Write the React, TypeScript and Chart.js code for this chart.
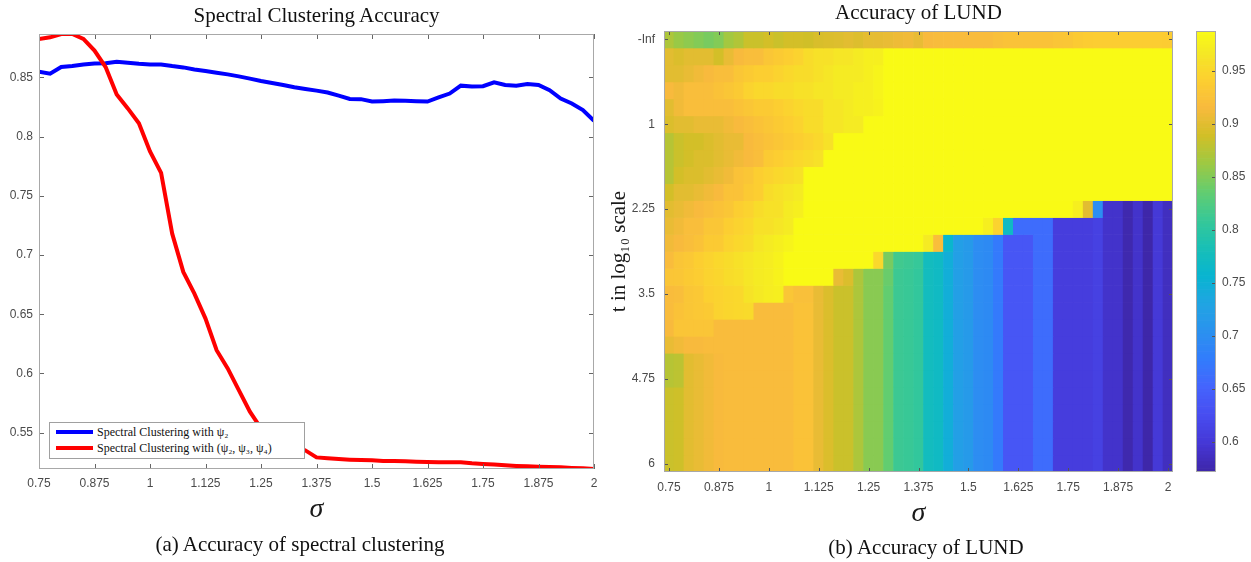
import React, { useEffect, useRef } from "react";
import { Chart, registerables } from "chart.js";

Chart.register(...registerables);

// ---------- shared axis values ----------
const sigma = [
  0.75, 0.775, 0.8, 0.825, 0.85, 0.875, 0.9, 0.925, 0.95, 0.975,
  1, 1.025, 1.05, 1.075, 1.1, 1.125, 1.15, 1.175, 1.2, 1.225,
  1.25, 1.275, 1.3, 1.325, 1.35, 1.375, 1.4, 1.425, 1.45, 1.475,
  1.5, 1.525, 1.55, 1.575, 1.6, 1.625, 1.65, 1.675, 1.7, 1.725,
  1.75, 1.775, 1.8, 1.825, 1.85, 1.875, 1.9, 1.925, 1.95, 1.975,
  2,
];
const xTickValues = [0.75, 0.875, 1, 1.125, 1.25, 1.375, 1.5, 1.625, 1.75, 1.875, 2];

// ---------- left panel: spectral clustering accuracy ----------
const leftTitle = "Spectral Clustering Accuracy";
const leftCaption = "(a) Accuracy of spectral clustering";
const leftYTicks = [0.55, 0.6, 0.65, 0.7, 0.75, 0.8, 0.85];
const leftYMin = 0.5193;
const leftYMax = 0.8866;
const seriesNames = ["Spectral Clustering with ψ₂", "Spectral Clustering with (ψ₂, ψ₃, ψ₄)"];
const seriesColors = ["#0000ff", "#ff0000"];
const accPsi2 = [
  0.8547, 0.8531, 0.8587, 0.8595, 0.8609, 0.8617, 0.862, 0.8631, 0.8623, 0.8614,
  0.8609, 0.8609, 0.8595, 0.8584, 0.8567, 0.8553, 0.8539, 0.8525, 0.8508, 0.8489,
  0.8469, 0.8453, 0.8436, 0.8416, 0.8402, 0.8388, 0.8372, 0.8346, 0.8318, 0.8316,
  0.8296, 0.8299, 0.8304, 0.8302, 0.8299, 0.8296, 0.833, 0.8363, 0.843, 0.8422,
  0.8425, 0.8458, 0.8436, 0.843, 0.8444, 0.8436, 0.8391, 0.8321, 0.8279, 0.8224,
  0.8134,
];
const accPsi234 = [
  0.8824, 0.8838, 0.8866, 0.8866, 0.8824, 0.8726, 0.8587, 0.8355, 0.8238, 0.8112,
  0.7875, 0.7694, 0.718, 0.6857, 0.6674, 0.6463, 0.6196, 0.6042, 0.5859, 0.5677,
  0.5536, 0.548, 0.543, 0.539, 0.535, 0.5291, 0.5283, 0.5277, 0.5272, 0.5269,
  0.5266, 0.526, 0.526, 0.5258, 0.5255, 0.5252, 0.525, 0.525, 0.525, 0.5241,
  0.5236, 0.523, 0.5224, 0.5219, 0.5216, 0.5213, 0.521, 0.5207, 0.5202, 0.5199,
  0.5193,
];

// ---------- right panel: LUND accuracy heatmap ----------
const rightTitle = "Accuracy of LUND";
const rightCaption = "(b) Accuracy of LUND";
const tRowLabels = [
  "-Inf", "0", "0.25", "0.5", "0.75", "1", "1.25", "1.5", "1.75", "2", "2.25", "2.5", "2.75",
  "3", "3.25", "3.5", "3.75", "4", "4.25", "4.5", "4.75", "5", "5.25", "5.5", "5.75", "6",
];
const tTickLabels = ["-Inf", "1", "2.25", "3.5", "4.75", "6"];
const colorbarTicks = [0.6, 0.65, 0.7, 0.75, 0.8, 0.85, 0.9, 0.95];
const cMin = 0.5714;
const cMax = 0.9878;

const lundRowInf = [
  0.870, 0.860, 0.855, 0.850, 0.845, 0.850, 0.865, 0.872, 0.885, 0.885,
  0.890, 0.885, 0.890, 0.890, 0.888, 0.893, 0.895, 0.897, 0.900, 0.897,
  0.902, 0.903, 0.905, 0.908, 0.910, 0.905, 0.915, 0.917, 0.918, 0.918,
  0.918, 0.918, 0.918, 0.922, 0.925, 0.925, 0.925, 0.925, 0.925, 0.928,
  0.930, 0.935, 0.937, 0.938, 0.938, 0.938, 0.938, 0.938, 0.938, 0.938,
  0.937,
];
const lundRowT000 = [
  0.900, 0.895, 0.900, 0.900, 0.900, 0.890, 0.905, 0.915, 0.920, 0.920,
  0.930, 0.935, 0.940, 0.945, 0.955, 0.960, 0.960, 0.965, 0.965, 0.970,
  0.975, 0.975, 0.987, 0.987, 0.987, 0.987, 0.987, 0.987, 0.987, 0.987,
  0.987, 0.987, 0.987, 0.987, 0.987, 0.987, 0.987, 0.987, 0.987, 0.987,
  0.987, 0.987, 0.987, 0.987, 0.987, 0.987, 0.987, 0.987, 0.987, 0.987,
  0.987,
];
const lundRowT025 = [
  0.900, 0.900, 0.905, 0.910, 0.915, 0.920, 0.920, 0.930, 0.935, 0.940,
  0.940, 0.945, 0.950, 0.955, 0.955, 0.960, 0.965, 0.970, 0.970, 0.970,
  0.975, 0.980, 0.987, 0.987, 0.987, 0.987, 0.987, 0.987, 0.987, 0.987,
  0.987, 0.987, 0.987, 0.987, 0.987, 0.987, 0.987, 0.987, 0.987, 0.987,
  0.987, 0.987, 0.987, 0.987, 0.987, 0.987, 0.987, 0.987, 0.987, 0.987,
  0.987,
];
const lundRowT050 = [
  0.915, 0.910, 0.920, 0.920, 0.920, 0.925, 0.930, 0.935, 0.945, 0.950,
  0.950, 0.955, 0.955, 0.960, 0.960, 0.965, 0.965, 0.970, 0.970, 0.975,
  0.975, 0.980, 0.987, 0.987, 0.987, 0.987, 0.987, 0.987, 0.987, 0.987,
  0.987, 0.987, 0.987, 0.987, 0.987, 0.987, 0.987, 0.987, 0.987, 0.987,
  0.987, 0.987, 0.987, 0.987, 0.987, 0.987, 0.987, 0.987, 0.987, 0.987,
  0.987,
];
const lundRowT075 = [
  0.900, 0.910, 0.920, 0.920, 0.920, 0.920, 0.920, 0.925, 0.930, 0.935,
  0.935, 0.940, 0.945, 0.950, 0.955, 0.955, 0.965, 0.965, 0.970, 0.975,
  0.975, 0.978, 0.987, 0.987, 0.987, 0.987, 0.987, 0.987, 0.987, 0.987,
  0.987, 0.987, 0.987, 0.987, 0.987, 0.987, 0.987, 0.987, 0.987, 0.987,
  0.987, 0.987, 0.987, 0.987, 0.987, 0.987, 0.987, 0.987, 0.987, 0.987,
  0.987,
];
const lundRowT100 = [
  0.895, 0.900, 0.900, 0.905, 0.905, 0.905, 0.910, 0.915, 0.920, 0.925,
  0.930, 0.935, 0.940, 0.945, 0.955, 0.955, 0.965, 0.965, 0.970, 0.970,
  0.987, 0.987, 0.987, 0.987, 0.987, 0.987, 0.987, 0.987, 0.987, 0.987,
  0.987, 0.987, 0.987, 0.987, 0.987, 0.987, 0.987, 0.987, 0.987, 0.987,
  0.987, 0.987, 0.987, 0.987, 0.987, 0.987, 0.987, 0.987, 0.987, 0.987,
  0.987,
];
const lundRowT125 = [
  0.875, 0.885, 0.890, 0.890, 0.895, 0.900, 0.905, 0.905, 0.915, 0.920,
  0.925, 0.930, 0.935, 0.940, 0.945, 0.950, 0.960, 0.987, 0.987, 0.987,
  0.987, 0.987, 0.987, 0.987, 0.987, 0.987, 0.987, 0.987, 0.987, 0.987,
  0.987, 0.987, 0.987, 0.987, 0.987, 0.987, 0.987, 0.987, 0.987, 0.987,
  0.987, 0.987, 0.987, 0.987, 0.987, 0.987, 0.987, 0.987, 0.987, 0.987,
  0.987,
];
const lundRowT150 = [
  0.875, 0.885, 0.890, 0.895, 0.895, 0.900, 0.905, 0.910, 0.915, 0.920,
  0.935, 0.940, 0.945, 0.950, 0.955, 0.960, 0.987, 0.987, 0.987, 0.987,
  0.987, 0.987, 0.987, 0.987, 0.987, 0.987, 0.987, 0.987, 0.987, 0.987,
  0.987, 0.987, 0.987, 0.987, 0.987, 0.987, 0.987, 0.987, 0.987, 0.987,
  0.987, 0.987, 0.987, 0.987, 0.987, 0.987, 0.987, 0.987, 0.987, 0.987,
  0.987,
];
const lundRowT175 = [
  0.875, 0.890, 0.895, 0.895, 0.900, 0.905, 0.910, 0.925, 0.930, 0.940,
  0.945, 0.950, 0.955, 0.960, 0.987, 0.987, 0.987, 0.987, 0.987, 0.987,
  0.987, 0.987, 0.987, 0.987, 0.987, 0.987, 0.987, 0.987, 0.987, 0.987,
  0.987, 0.987, 0.987, 0.987, 0.987, 0.987, 0.987, 0.987, 0.987, 0.987,
  0.987, 0.987, 0.987, 0.987, 0.987, 0.987, 0.987, 0.987, 0.987, 0.987,
  0.987,
];
const lundRowT200 = [
  0.890, 0.900, 0.900, 0.905, 0.910, 0.915, 0.925, 0.925, 0.935, 0.940,
  0.955, 0.960, 0.965, 0.970, 0.987, 0.987, 0.987, 0.987, 0.987, 0.987,
  0.987, 0.987, 0.987, 0.987, 0.987, 0.987, 0.987, 0.987, 0.987, 0.987,
  0.987, 0.987, 0.987, 0.987, 0.987, 0.987, 0.987, 0.987, 0.987, 0.987,
  0.987, 0.987, 0.987, 0.987, 0.987, 0.987, 0.987, 0.987, 0.987, 0.987,
  0.987,
];
const lundRowT225 = [
  0.900, 0.905, 0.910, 0.915, 0.920, 0.925, 0.930, 0.940, 0.945, 0.955,
  0.960, 0.960, 0.970, 0.975, 0.987, 0.987, 0.987, 0.987, 0.987, 0.987,
  0.987, 0.987, 0.987, 0.987, 0.987, 0.987, 0.987, 0.987, 0.987, 0.987,
  0.987, 0.987, 0.987, 0.987, 0.987, 0.987, 0.987, 0.987, 0.987, 0.987,
  0.987, 0.975, 0.900, 0.700, 0.592, 0.592, 0.575, 0.592, 0.572, 0.600,
  0.585,
];
const lundRowT250 = [
  0.905, 0.910, 0.920, 0.920, 0.930, 0.930, 0.940, 0.945, 0.950, 0.960,
  0.960, 0.965, 0.970, 0.987, 0.987, 0.987, 0.987, 0.987, 0.987, 0.987,
  0.987, 0.987, 0.987, 0.987, 0.987, 0.987, 0.987, 0.987, 0.987, 0.987,
  0.987, 0.987, 0.975, 0.945, 0.770, 0.660, 0.660, 0.660, 0.660, 0.605,
  0.605, 0.605, 0.605, 0.610, 0.592, 0.592, 0.575, 0.592, 0.572, 0.600,
  0.585,
];
const lundRowT275 = [
  0.910, 0.915, 0.920, 0.925, 0.935, 0.935, 0.945, 0.950, 0.955, 0.965,
  0.970, 0.975, 0.980, 0.987, 0.987, 0.987, 0.987, 0.987, 0.987, 0.987,
  0.987, 0.987, 0.987, 0.987, 0.987, 0.987, 0.970, 0.920, 0.760, 0.722,
  0.716, 0.698, 0.695, 0.675, 0.635, 0.635, 0.635, 0.660, 0.660, 0.605,
  0.605, 0.605, 0.605, 0.610, 0.592, 0.592, 0.575, 0.592, 0.572, 0.600,
  0.585,
];
const lundRowT300 = [
  0.918, 0.928, 0.932, 0.940, 0.945, 0.950, 0.955, 0.960, 0.965, 0.970,
  0.972, 0.978, 0.987, 0.987, 0.987, 0.987, 0.987, 0.987, 0.987, 0.987,
  0.987, 0.950, 0.845, 0.815, 0.812, 0.808, 0.775, 0.770, 0.745, 0.722,
  0.716, 0.698, 0.695, 0.675, 0.635, 0.635, 0.635, 0.660, 0.660, 0.605,
  0.605, 0.605, 0.605, 0.610, 0.592, 0.592, 0.575, 0.592, 0.572, 0.600,
  0.585,
];
const lundRowT325 = [
  0.928, 0.930, 0.935, 0.938, 0.945, 0.948, 0.955, 0.958, 0.965, 0.970,
  0.972, 0.978, 0.987, 0.987, 0.987, 0.987, 0.987, 0.905, 0.895, 0.870,
  0.853, 0.853, 0.838, 0.812, 0.810, 0.805, 0.775, 0.770, 0.745, 0.722,
  0.716, 0.698, 0.695, 0.675, 0.635, 0.635, 0.635, 0.660, 0.660, 0.605,
  0.605, 0.605, 0.605, 0.610, 0.592, 0.592, 0.575, 0.592, 0.572, 0.600,
  0.585,
];
const lundRowT350 = [
  0.918, 0.920, 0.930, 0.932, 0.942, 0.945, 0.948, 0.950, 0.962, 0.968,
  0.972, 0.975, 0.930, 0.922, 0.922, 0.905, 0.895, 0.885, 0.885, 0.870,
  0.853, 0.853, 0.835, 0.812, 0.810, 0.805, 0.775, 0.770, 0.745, 0.722,
  0.716, 0.698, 0.695, 0.675, 0.635, 0.635, 0.635, 0.660, 0.660, 0.605,
  0.605, 0.605, 0.605, 0.610, 0.592, 0.592, 0.575, 0.592, 0.572, 0.600,
  0.585,
];
const lundRowT375 = [
  0.918, 0.925, 0.930, 0.932, 0.935, 0.945, 0.948, 0.950, 0.952, 0.918,
  0.918, 0.918, 0.918, 0.925, 0.925, 0.905, 0.895, 0.885, 0.885, 0.870,
  0.853, 0.853, 0.835, 0.812, 0.810, 0.805, 0.775, 0.770, 0.745, 0.722,
  0.716, 0.698, 0.695, 0.675, 0.635, 0.635, 0.635, 0.660, 0.660, 0.605,
  0.605, 0.605, 0.605, 0.610, 0.592, 0.592, 0.575, 0.592, 0.572, 0.600,
  0.585,
];
const lundRowT400 = [
  0.915, 0.928, 0.928, 0.928, 0.928, 0.918, 0.918, 0.918, 0.918, 0.918,
  0.918, 0.918, 0.918, 0.925, 0.925, 0.905, 0.895, 0.885, 0.885, 0.870,
  0.853, 0.853, 0.835, 0.812, 0.810, 0.805, 0.775, 0.770, 0.745, 0.722,
  0.716, 0.698, 0.695, 0.675, 0.635, 0.635, 0.635, 0.660, 0.660, 0.605,
  0.605, 0.605, 0.605, 0.610, 0.592, 0.592, 0.575, 0.592, 0.572, 0.600,
  0.585,
];
const lundRowT425 = [
  0.905, 0.910, 0.915, 0.915, 0.918, 0.918, 0.918, 0.918, 0.918, 0.918,
  0.918, 0.918, 0.918, 0.925, 0.925, 0.905, 0.895, 0.885, 0.885, 0.870,
  0.853, 0.853, 0.835, 0.812, 0.810, 0.805, 0.775, 0.770, 0.745, 0.722,
  0.716, 0.698, 0.695, 0.675, 0.635, 0.635, 0.635, 0.660, 0.660, 0.605,
  0.605, 0.605, 0.605, 0.610, 0.592, 0.592, 0.575, 0.592, 0.572, 0.600,
  0.585,
];
const lundRowT450 = [
  0.875, 0.878, 0.900, 0.905, 0.910, 0.915, 0.918, 0.918, 0.918, 0.918,
  0.918, 0.918, 0.918, 0.925, 0.925, 0.905, 0.895, 0.885, 0.885, 0.870,
  0.853, 0.853, 0.835, 0.812, 0.810, 0.805, 0.775, 0.770, 0.745, 0.722,
  0.716, 0.698, 0.695, 0.675, 0.635, 0.635, 0.635, 0.660, 0.660, 0.605,
  0.605, 0.605, 0.605, 0.610, 0.592, 0.592, 0.575, 0.592, 0.572, 0.600,
  0.585,
];
const lundRowT475 = [
  0.875, 0.878, 0.900, 0.905, 0.910, 0.915, 0.918, 0.918, 0.918, 0.918,
  0.918, 0.918, 0.918, 0.925, 0.925, 0.905, 0.895, 0.885, 0.885, 0.870,
  0.853, 0.853, 0.835, 0.812, 0.810, 0.805, 0.775, 0.770, 0.745, 0.722,
  0.716, 0.698, 0.695, 0.675, 0.635, 0.635, 0.635, 0.660, 0.660, 0.605,
  0.605, 0.605, 0.605, 0.610, 0.592, 0.592, 0.575, 0.592, 0.572, 0.600,
  0.585,
];
const lundRowT500 = [
  0.885, 0.887, 0.900, 0.905, 0.910, 0.915, 0.918, 0.918, 0.918, 0.918,
  0.918, 0.918, 0.918, 0.925, 0.925, 0.905, 0.895, 0.885, 0.885, 0.870,
  0.853, 0.853, 0.835, 0.812, 0.810, 0.805, 0.775, 0.770, 0.745, 0.722,
  0.716, 0.698, 0.695, 0.675, 0.635, 0.635, 0.635, 0.660, 0.660, 0.605,
  0.605, 0.605, 0.605, 0.610, 0.592, 0.592, 0.575, 0.592, 0.572, 0.600,
  0.585,
];
const lundRowT525 = [
  0.885, 0.887, 0.900, 0.905, 0.910, 0.915, 0.918, 0.918, 0.918, 0.918,
  0.918, 0.918, 0.918, 0.925, 0.925, 0.905, 0.895, 0.885, 0.885, 0.870,
  0.853, 0.853, 0.835, 0.812, 0.810, 0.805, 0.775, 0.770, 0.745, 0.722,
  0.716, 0.698, 0.695, 0.675, 0.635, 0.635, 0.635, 0.660, 0.660, 0.605,
  0.605, 0.605, 0.605, 0.610, 0.592, 0.592, 0.575, 0.592, 0.572, 0.600,
  0.585,
];
const lundRowT550 = [
  0.885, 0.887, 0.900, 0.905, 0.910, 0.915, 0.918, 0.918, 0.918, 0.918,
  0.918, 0.918, 0.918, 0.925, 0.925, 0.905, 0.895, 0.885, 0.885, 0.870,
  0.853, 0.853, 0.835, 0.812, 0.810, 0.805, 0.775, 0.770, 0.745, 0.722,
  0.716, 0.698, 0.695, 0.675, 0.635, 0.635, 0.635, 0.660, 0.660, 0.605,
  0.605, 0.605, 0.605, 0.610, 0.592, 0.592, 0.575, 0.592, 0.572, 0.600,
  0.585,
];
const lundRowT575 = [
  0.885, 0.887, 0.900, 0.905, 0.910, 0.915, 0.918, 0.918, 0.918, 0.918,
  0.918, 0.918, 0.918, 0.925, 0.925, 0.905, 0.895, 0.885, 0.885, 0.870,
  0.853, 0.853, 0.835, 0.812, 0.810, 0.805, 0.775, 0.770, 0.745, 0.722,
  0.716, 0.698, 0.695, 0.675, 0.635, 0.635, 0.635, 0.660, 0.660, 0.605,
  0.605, 0.605, 0.605, 0.610, 0.592, 0.592, 0.575, 0.592, 0.572, 0.600,
  0.585,
];
const lundRowT600 = [
  0.885, 0.887, 0.900, 0.905, 0.910, 0.915, 0.918, 0.918, 0.918, 0.918,
  0.918, 0.918, 0.918, 0.925, 0.925, 0.905, 0.895, 0.885, 0.885, 0.870,
  0.853, 0.853, 0.835, 0.812, 0.810, 0.805, 0.775, 0.770, 0.745, 0.722,
  0.716, 0.698, 0.695, 0.675, 0.635, 0.635, 0.635, 0.660, 0.660, 0.605,
  0.605, 0.605, 0.605, 0.610, 0.592, 0.592, 0.575, 0.592, 0.572, 0.600,
  0.585,
];

const lundRows = [
  lundRowInf, lundRowT000, lundRowT025, lundRowT050, lundRowT075, lundRowT100,
  lundRowT125, lundRowT150, lundRowT175, lundRowT200, lundRowT225, lundRowT250,
  lundRowT275, lundRowT300, lundRowT325, lundRowT350, lundRowT375, lundRowT400,
  lundRowT425, lundRowT450, lundRowT475, lundRowT500, lundRowT525, lundRowT550,
  lundRowT575, lundRowT600,
];

// ---------- parula colormap (style) ----------
const parulaStops: number[][] = [
  [0 / 63, 0.2422, 0.1504, 0.6603],
  [4 / 63, 0.2706, 0.2147, 0.8364],
  [8 / 63, 0.2813, 0.3006, 0.9414],
  [12 / 63, 0.2699, 0.3892, 0.9906],
  [16 / 63, 0.1963, 0.4847, 0.9892],
  [20 / 63, 0.1687, 0.5703, 0.9359],
  [24 / 63, 0.1248, 0.6459, 0.8883],
  [28 / 63, 0.0297, 0.7082, 0.8163],
  [32 / 63, 0.0964, 0.75, 0.712],
  [36 / 63, 0.2161, 0.7843, 0.5923],
  [40 / 63, 0.3909, 0.8029, 0.4354],
  [44 / 63, 0.6174, 0.7876, 0.2612],
  [48 / 63, 0.8203, 0.7498, 0.1535],
  [52 / 63, 0.9728, 0.7298, 0.2394],
  [56 / 63, 0.9892, 0.8136, 0.1885],
  [60 / 63, 0.9597, 0.9135, 0.1423],
  [63 / 63, 0.9769, 0.9839, 0.0805],
];

function parulaColor(v: number): string {
  let t = (v - cMin) / (cMax - cMin);
  t = Math.max(0, Math.min(1, t));
  let i = 0;
  while (i < parulaStops.length - 2 && t > parulaStops[i + 1][0]) i++;
  const a = parulaStops[i];
  const b = parulaStops[i + 1];
  const f = (t - a[0]) / (b[0] - a[0]);
  const c = [1, 2, 3].map((k) => Math.round(255 * (a[k] + (b[k] - a[k]) * f)));
  return `rgb(${c[0]},${c[1]},${c[2]})`;
}

const serif = '"Liberation Serif", "Times New Roman", serif';
const sans = '"Liberation Sans", Arial, sans-serif';
const tickFont = { family: sans, size: 12 };
const tickColor = "#4a4a4a";

// inward MATLAB-style ticks + box
const boxTicksPlugin = {
  id: "boxTicks",
  afterDatasetsDraw(chart: any, _args: any, opts: any) {
    const { ctx, chartArea } = chart;
    const { left, right, top, bottom } = chartArea;
    const len = opts.len ?? 5;
    const sides: string[] = opts.sides || ["top", "bottom", "left", "right"];
    ctx.save();
    ctx.lineWidth = 1;
    ctx.strokeStyle = opts.tickColor || "#555";
    ctx.beginPath();
    Object.values(chart.scales).forEach((scale: any) => {
      if (scale.options.display === false) return;
      scale.ticks.forEach((_t: any, i: number) => {
        const p = Math.round(scale.getPixelForTick(i)) + 0.5;
        if (scale.isHorizontal()) {
          if (sides.includes("bottom")) { ctx.moveTo(p, bottom); ctx.lineTo(p, bottom - len); }
          if (sides.includes("top")) { ctx.moveTo(p, top); ctx.lineTo(p, top + len); }
        } else {
          if (sides.includes("left")) { ctx.moveTo(left, p); ctx.lineTo(left + len, p); }
          if (sides.includes("right")) { ctx.moveTo(right, p); ctx.lineTo(right - len, p); }
        }
      });
    });
    ctx.stroke();
    ctx.strokeStyle = opts.borderColor || "#a0a0a0";
    ctx.strokeRect(Math.round(left) + 0.5, Math.round(top) + 0.5, Math.round(right - left) - 1, Math.round(bottom - top) - 1);
    ctx.restore();
  },
};

const textStyle = (cx: number, cy: number, size: number): React.CSSProperties => ({
  position: "absolute",
  left: cx - 250,
  width: 500,
  top: cy - size * 0.6,
  height: size * 1.2,
  lineHeight: `${size * 1.2}px`,
  textAlign: "center",
  fontFamily: serif,
  fontSize: size,
  color: "#111",
  whiteSpace: "nowrap",
});

export default function App() {
  const lineRef = useRef<HTMLCanvasElement>(null);
  const heatRef = useRef<HTMLCanvasElement>(null);
  const cbarRef = useRef<HTMLCanvasElement>(null);

  useEffect(() => {
    const charts: Chart[] = [];

    // ----- line chart -----
    charts.push(
      new Chart(lineRef.current as HTMLCanvasElement, {
        type: "line",
        data: {
          datasets: [
            {
              label: seriesNames[0],
              data: sigma.map((s, i) => ({ x: s, y: accPsi2[i] })),
              borderColor: seriesColors[0],
              borderWidth: 4,
              pointRadius: 0,
              tension: 0,
              order: 1,
            },
            {
              label: seriesNames[1],
              data: sigma.map((s, i) => ({ x: s, y: accPsi234[i] })),
              borderColor: seriesColors[1],
              borderWidth: 4,
              pointRadius: 0,
              tension: 0,
              order: 0,
            },
          ],
        },
        options: {
          responsive: false,
          animation: false,
          devicePixelRatio: 1,
          events: [],
          layout: { padding: { top: 34, right: 16, left: 0, bottom: 0 } },
          plugins: {
            legend: { display: false },
            tooltip: { enabled: false },
            title: { display: false },
            boxTicks: { len: 5, tickColor: "#666", borderColor: "#a8a8a8" },
          } as any,
          scales: {
            x: {
              type: "linear",
              min: 0.75,
              max: 2,
              afterBuildTicks: (s: any) => { s.ticks = xTickValues.map((v) => ({ value: v })); },
              afterFit: (s: any) => { s.height = 71; },
              grid: { display: false, drawTicks: false },
              border: { display: false },
              ticks: { padding: 7, font: tickFont, color: tickColor, maxRotation: 0, autoSkip: false, callback: (v: any) => String(v) },
              title: { display: true, text: "σ", color: "#1a1a1a", font: { family: serif, size: 28, style: "italic" }, padding: { top: 0, bottom: 14 } },
            },
            y: {
              min: leftYMin,
              max: leftYMax,
              afterBuildTicks: (s: any) => { s.ticks = leftYTicks.map((v) => ({ value: v })); },
              afterFit: (s: any) => { s.width = 39; },
              grid: { display: false, drawTicks: false },
              border: { display: false },
              ticks: { padding: 6, font: tickFont, color: tickColor, callback: (v: any) => String(v) },
            },
          },
        } as any,
        plugins: [boxTicksPlugin],
      })
    );

    // ----- heatmap -----
    const sigmaLabels = sigma.map((s) => String(s));
    const xTickIdx = sigma
      .map((s, i) => (xTickValues.some((v) => Math.abs(v - s) < 1e-9) ? i : -1))
      .filter((i) => i >= 0);
    const yTickRows = tRowLabels
      .map((l, r) => (tTickLabels.includes(l) ? r : -1))
      .filter((r) => r >= 0);

    charts.push(
      new Chart(heatRef.current as HTMLCanvasElement, {
        type: "bar",
        data: {
          labels: sigmaLabels,
          datasets: lundRows.map((row, r) => ({
            label: tRowLabels[r],
            data: row.map(() => 1),
            backgroundColor: row.map((v) => parulaColor(v)),
            borderWidth: 0,
            barPercentage: 1,
            categoryPercentage: 1,
          })),
        },
        options: {
          responsive: false,
          animation: false,
          devicePixelRatio: 1,
          events: [],
          layout: { padding: { top: 31, right: 12, left: 0, bottom: 0 } },
          plugins: {
            legend: { display: false },
            tooltip: { enabled: false },
            title: { display: false },
            boxTicks: { len: 4, tickColor: "#555", borderColor: "#a8a8a8" },
          } as any,
          scales: {
            x: {
              stacked: true,
              afterBuildTicks: (s: any) => { s.ticks = xTickIdx.map((i) => ({ value: i })); },
              afterFit: (s: any) => { s.height = 68; },
              grid: { display: false, drawTicks: false },
              border: { display: false },
              ticks: { padding: 8, font: tickFont, color: tickColor, maxRotation: 0, autoSkip: false },
              title: { display: true, text: "σ", color: "#1a1a1a", font: { family: serif, size: 28, style: "italic" }, padding: { top: 0, bottom: 10 } },
            },
            y: {
              stacked: true,
              min: 0,
              max: lundRows.length,
              reverse: true,
              afterBuildTicks: (s: any) => { s.ticks = yTickRows.map((r) => ({ value: r + 0.5 })); },
              afterFit: (s: any) => { s.width = 64; },
              grid: { display: false, drawTicks: false },
              border: { display: false },
              ticks: { padding: 9, font: tickFont, color: tickColor, callback: (v: any) => tRowLabels[Math.floor(v)] },
              title: { display: true, text: "t in log₁₀ scale", color: "#1a1a1a", font: { family: serif, size: 21 }, padding: { top: 7, bottom: 0 } },
            },
          },
        } as any,
        plugins: [boxTicksPlugin],
      })
    );

    // ----- colorbar -----
    const cbSteps = 128;
    const segs = Array.from({ length: cbSteps }, (_, k) => [
      cMin + ((cMax - cMin) * k) / cbSteps,
      cMin + ((cMax - cMin) * (k + 1)) / cbSteps,
    ]);
    charts.push(
      new Chart(cbarRef.current as HTMLCanvasElement, {
        type: "bar",
        data: {
          labels: [""],
          datasets: segs.map(([a, b]) => ({
            data: [[a, b]],
            backgroundColor: parulaColor((a + b) / 2),
            borderWidth: 0,
            grouped: false,
            barPercentage: 1,
            categoryPercentage: 1,
          })),
        },
        options: {
          responsive: false,
          animation: false,
          devicePixelRatio: 1,
          events: [],
          layout: { padding: { top: 31, right: 0, left: 11, bottom: 68 } },
          plugins: {
            legend: { display: false },
            tooltip: { enabled: false },
            boxTicks: { len: 4, sides: ["right"], tickColor: "#555", borderColor: "#a8a8a8" },
          } as any,
          scales: {
            x: { display: false },
            y: {
              position: "right",
              min: cMin,
              max: cMax,
              afterBuildTicks: (s: any) => { s.ticks = colorbarTicks.map((v) => ({ value: v })); },
              afterFit: (s: any) => { s.width = 35; },
              grid: { display: false, drawTicks: false },
              border: { display: false },
              ticks: { padding: 6, font: tickFont, color: tickColor, callback: (v: any) => String(v) },
            },
          },
        } as any,
        plugins: [boxTicksPlugin],
      })
    );

    return () => charts.forEach((c) => c.destroy());
  }, []);

  return (
    <div style={{ position: "absolute", left: 0, top: 0, width: 1251, height: 562, background: "#fff", overflow: "hidden" }}>
      <canvas ref={lineRef} width={610} height={540} style={{ position: "absolute", left: 0, top: 0, width: 610, height: 540 }} />
      <canvas ref={heatRef} width={585} height={540} style={{ position: "absolute", left: 600, top: 0, width: 585, height: 540 }} />
      <canvas ref={cbarRef} width={66} height={540} style={{ position: "absolute", left: 1185, top: 0, width: 66, height: 540 }} />

      <div style={textStyle(316.5, 16, 21)}>{leftTitle}</div>
      <div style={textStyle(918.5, 13, 21)}>{rightTitle}</div>

      <div
        style={{
          position: "absolute", left: 49, top: 422, width: 256, height: 37,
          border: "1px solid #a0a0a0", background: "#fff", boxSizing: "border-box",
          fontFamily: serif, fontSize: 12, color: "#111",
        }}
      >
        {seriesNames.map((name, i) => (
          <div key={i} style={{ position: "absolute", left: 0, top: 1 + i * 16, height: 16, display: "flex", alignItems: "center" }}>
            <span style={{ display: "inline-block", marginLeft: 6, width: 37, height: 4, background: seriesColors[i] }} />
            <span style={{ marginLeft: 4, whiteSpace: "nowrap" }}>{name}</span>
          </div>
        ))}
      </div>

      <div style={textStyle(300, 545, 21)}>{leftCaption}</div>
      <div style={textStyle(926, 548, 21)}>{rightCaption}</div>
    </div>
  );
}
